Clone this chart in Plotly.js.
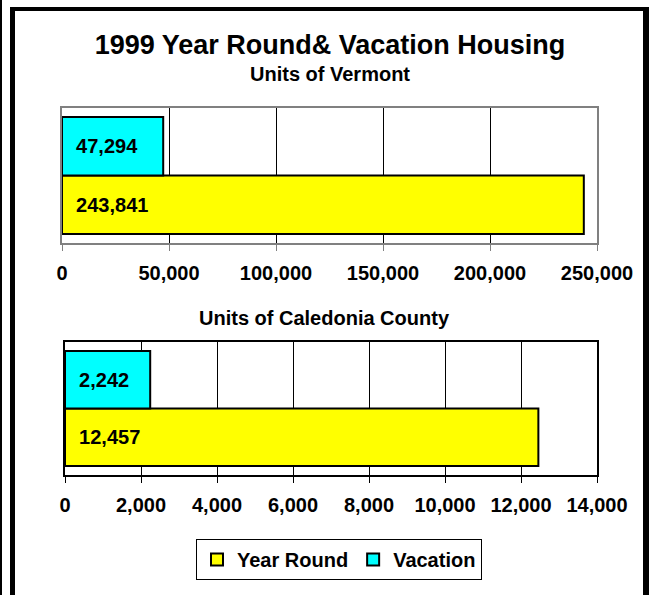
<!DOCTYPE html>
<html>
<head>
<meta charset="utf-8">
<script src="https://cdn.plot.ly/plotly-3.0.1.min.js"></script>
<style>
html,body{margin:0;padding:0;background:#fff;}
#chart{width:649px;height:595px;}
</style>
</head>
<body>
<div id="chart"></div>
<script>
// ---- data ----
const seriesNames = ['Year Round', 'Vacation'];
const regions = ['Vermont', 'Caledonia County'];
const yearRound = [243841, 12457];
const vacation = [47294, 2242];
const axisMax = [250000, 14000];
const axisStep = [50000, 2000];
const titleText = '1999 Year Round& Vacation Housing';
const subTitles = ['Units of Vermont', 'Units of Caledonia County'];

// ---- styling ----
const W = 649, H = 595;
const FONT = 'Arial, "Liberation Sans", sans-serif';
const colors = ['#FFFF00', '#00FFFF'];
const px = v => v / W;
const py = v => 1 - v / H;

const seriesValues = [yearRound, vacation];
const traces = [];
regions.forEach((reg, r) => {
  seriesNames.forEach((name, s) => {
    traces.push({
      type: 'bar',
      orientation: 'h',
      name: name,
      legendgroup: name,
      showlegend: r === 0,
      x: [seriesValues[s][r]],
      y: [reg],
      xaxis: r === 0 ? 'x' : 'x2',
      yaxis: r === 0 ? 'y' : 'y2',
      marker: {color: colors[s], line: {color: '#000', width: 2}},
      texttemplate: '\u00a0\u00a0%{x:,}',
      textposition: 'inside',
      insidetextanchor: 'start',
      constraintext: 'none',
      textangle: 0,
      textfont: {family: FONT, size: 20, color: '#000', weight: 'bold'},
      hoverinfo: 'skip'
    });
  });
});

function xAxis(r, domain, lineColor, lineWidth, anchor) {
  return {
    domain: domain,
    anchor: anchor,
    range: [0, axisMax[r]],
    tick0: 0,
    dtick: axisStep[r],
    tickformat: ',d',
    showgrid: true,
    gridcolor: '#000',
    gridwidth: 1,
    zeroline: false,
    showline: true,
    mirror: true,
    linecolor: lineColor,
    linewidth: lineWidth,
    ticks: 'outside',
    ticklen: 6,
    tickwidth: 1,
    tickcolor: lineColor,
    ticklabelstandoff: 5,
    tickfont: {family: FONT, size: 20, color: '#000', weight: 'bold'},
    fixedrange: true
  };
}
function yAxis(domain, lineColor, lineWidth, anchor) {
  return {
    domain: domain,
    anchor: anchor,
    type: 'category',
    showticklabels: false,
    ticks: '',
    showgrid: false,
    zeroline: false,
    showline: true,
    mirror: true,
    linecolor: lineColor,
    linewidth: lineWidth,
    fixedrange: true
  };
}

const layout = {
  width: W, height: H,
  margin: {l: 0, r: 0, t: 0, b: 0, pad: 0},
  paper_bgcolor: '#fff',
  plot_bgcolor: '#fff',
  barmode: 'group',
  bargap: 0.135,
  bargroupgap: 0,
  showlegend: true,
  title: {
    text: titleText,
    x: px(330), xanchor: 'center',
    y: py(45), yanchor: 'middle',
    font: {family: FONT, size: 27, color: '#000', weight: 'bold'}
  },
  xaxis: xAxis(0, [px(62), px(597)], '#808080', 2, 'y'),
  yaxis: yAxis([py(243), py(108)], '#808080', 2, 'x'),
  xaxis2: xAxis(1, [px(65), px(597)], '#000', 2, 'y2'),
  yaxis2: yAxis([py(475), py(342)], '#000', 2, 'x2'),
  legend: {
    orientation: 'h',
    x: px(339), xanchor: 'center',
    y: py(539), yanchor: 'top',
    bordercolor: '#000',
    borderwidth: 1,
    bgcolor: '#fff',
    font: {family: FONT, size: 20, color: '#000', weight: 'bold'},
    traceorder: 'normal'
  },
  annotations: [
    {text: subTitles[0], xref: 'paper', yref: 'paper', x: px(330), y: py(74),
     xanchor: 'center', yanchor: 'middle', showarrow: false,
     font: {family: FONT, size: 20, color: '#000', weight: 'bold'}},
    {text: subTitles[1], xref: 'paper', yref: 'paper', x: px(324), y: py(318),
     xanchor: 'center', yanchor: 'middle', showarrow: false,
     font: {family: FONT, size: 20, color: '#000', weight: 'bold'}}
  ],
  shapes: [
    {type: 'rect', xref: 'paper', yref: 'paper', x0: 0, x1: px(2), y0: 0, y1: 1,
     fillcolor: '#000', line: {width: 0}},
    {type: 'rect', xref: 'paper', yref: 'paper', x0: px(10), x1: px(15), y0: 0, y1: py(7),
     fillcolor: '#000', line: {width: 0}},
    {type: 'rect', xref: 'paper', yref: 'paper', x0: px(10), x1: 1, y0: py(11), y1: py(7),
     fillcolor: '#000', line: {width: 0}},
    {type: 'rect', xref: 'paper', yref: 'paper', x0: px(643), x1: 1, y0: 0, y1: py(7),
     fillcolor: '#000', line: {width: 0}}
  ]
};

Plotly.newPlot('chart', traces, layout, {displayModeBar: false, staticPlot: true});
</script>
</body>
</html>
